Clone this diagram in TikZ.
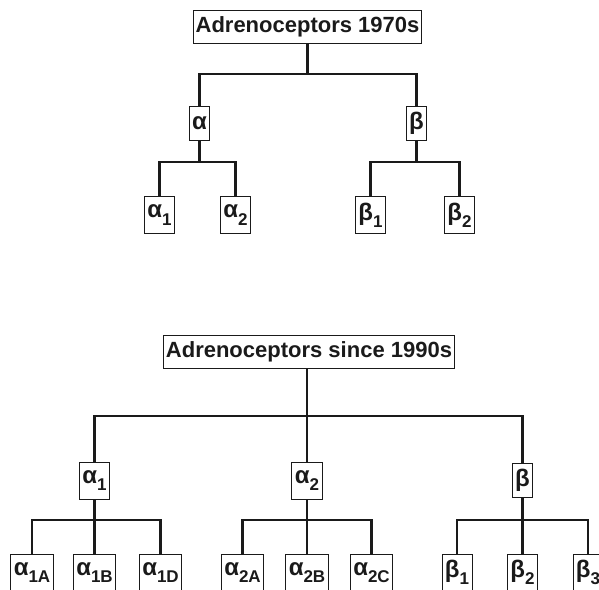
\documentclass[tikz,border=0pt]{standalone}
\usepackage{fontspec}
\setmainfont{Liberation Sans}
\usepackage{xcolor}
\definecolor{ink}{HTML}{1A1A1A}
\usepackage{tikz}
\usetikzlibrary{positioning, calc}
\newcommand{\lowidx}[1]{\raisebox{-0.3em}{\fontsize{17}{17}\selectfont #1}}
\begin{document}
\begin{tikzpicture}[x=1pt, y=-1pt,
  ttl/.style={draw=ink, line width=0.9pt, inner xsep=2pt, inner ysep=0pt,
    minimum height=33pt, text=ink, font=\bfseries\fontsize{22}{22}\selectfont},
  lbl/.style={draw=ink, line width=0.9pt, inner xsep=3pt, inner ysep=0pt,
    minimum height=34pt, text=ink, font=\bfseries\fontsize{24}{24}\selectfont},
  kid/.style={lbl, minimum height=37pt},
  tree/.style={line width=2.8pt, ink}]

  \useasboundingbox (0,0) rectangle (599,589);
  \clip (0,0) rectangle (599,589);

  % 1970s
  \node[ttl] (t70) at (307.5,26.5) {Adrenoceptors 1970s};
  \node[lbl] (a) at (199.5,123.5) {α};
  \node[lbl] (b) at (416.5,123.5) {β};
  \node[kid] (a1) at (159.5,215) {α\lowidx{1}};
  \node[kid] (a2) at (235.5,215) {α\lowidx{2}};
  \node[kid] (b1) at (370.5,215) {β\lowidx{1}};
  \node[kid] (b2) at (459.5,215) {β\lowidx{2}};

  \coordinate (j70) at (307.5,74);
  \coordinate (ja) at (199.5,162);
  \coordinate (jb) at (416.5,162);

  \draw[tree] (t70.south) -- (j70);
  \draw[tree] (a.north) |- (j70) -| (b.north);
  \draw[tree] (a.south) -- (ja);
  \draw[tree] (a1.north) |- (ja) -| (a2.north);
  \draw[tree] (b.south) -- (jb);
  \draw[tree] (b1.north) |- (jb) -| (b2.north);

  % since 1990s
  \node[ttl] (t90) at (309,351.5) {Adrenoceptors since 1990s};
  \node[lbl, minimum height=37pt] (c1) at (94.5,480.5) {α\lowidx{1}};
  \node[lbl, minimum height=37pt] (c2) at (307,480.5) {α\lowidx{2}};
  \node[lbl] (c3) at (522.5,480) {β};

  \node[kid] (c1a) at (32,572.5) {α\lowidx{1A}};
  \node[kid] (c1b) at (94.5,572.5) {α\lowidx{1B}};
  \node[kid] (c1d) at (160.5,572.5) {α\lowidx{1D}};
  \node[kid] (c2a) at (242.5,572.5) {α\lowidx{2A}};
  \node[kid] (c2b) at (307,572.5) {α\lowidx{2B}};
  \node[kid] (c2c) at (371.5,572.5) {α\lowidx{2C}};
  \node[kid] (c3a) at (457,572.5) {β\lowidx{1}};
  \node[kid] (c3b) at (522.5,572.5) {β\lowidx{2}};
  \node[kid] (c3c) at (588,572.5) {β\lowidx{3}};

  \coordinate (j90) at (307,416);
  \coordinate (jc1) at (94.5,520);
  \coordinate (jc2) at (307,520);
  \coordinate (jc3) at (522.5,520);

  \draw[tree] (t90.south -| j90) -- (j90);
  \draw[tree] (c1.north) |- (j90) -| (c3.north);
  \draw[tree] (j90) -- (c2.north);
  \draw[tree] (c1.south) -- (jc1);
  \draw[tree] (c1a.north) |- (jc1) -| (c1d.north);
  \draw[tree] (jc1) -- (c1b.north);
  \draw[tree] (c2.south) -- (jc2);
  \draw[tree] (c2a.north) |- (jc2) -| (c2c.north);
  \draw[tree] (jc2) -- (c2b.north);
  \draw[tree] (c3.south) -- (jc3);
  \draw[tree] (c3a.north) |- (jc3) -| (c3c.north);
  \draw[tree] (jc3) -- (c3b.north);

\end{tikzpicture}
\end{document}
